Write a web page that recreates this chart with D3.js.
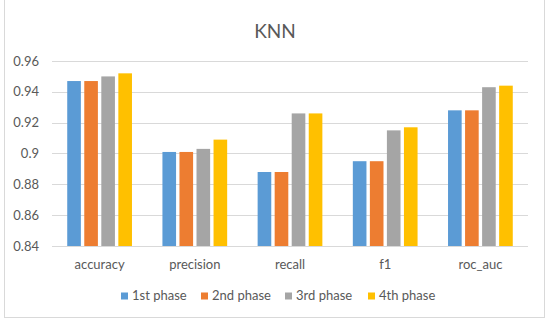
<!DOCTYPE html>
<html><head><meta charset="utf-8">
<script src="https://cdn.jsdelivr.net/npm/d3@7"></script>
<style>body{margin:0;background:#fff}svg{display:block}text{font-family:Lato,"Open Sans",sans-serif;fill:#595959}</style>
</head><body><svg id="c" width="550" height="323"></svg>
<script>
const categories = ["accuracy","precision","recall","f1","roc_auc"];
const seriesNames = ["1st phase","2nd phase","3rd phase","4th phase"];
const phase1 = [0.947,0.901,0.888,0.895,0.928];
const phase2 = [0.947,0.901,0.888,0.895,0.928];
const phase3 = [0.950,0.903,0.926,0.915,0.943];
const phase4 = [0.952,0.909,0.926,0.917,0.944];
const yTicks = [0.84,0.86,0.88,0.9,0.92,0.94,0.96];
const colors = ["#5B9BD5","#ED7D31","#A5A5A5","#FFC000"];
const series = [phase1,phase2,phase3,phase4];

const svg = d3.select("#c");
svg.append("rect").attr("x",4.5).attr("y",-1.5).attr("width",540).attr("height",319)
  .attr("fill","#fff").attr("stroke","#d9d9d9");
svg.append("text").attr("x",275).attr("y",38).attr("text-anchor","middle")
  .style("font-size","19px").text("KNN");

const L=52,R=528,T=61,B=246;
const y = d3.scaleLinear().domain([0.84,0.96]).range([B,T]);
const x0 = d3.scaleBand().domain(categories).range([L,R]).paddingInner(0.32).paddingOuter(0.16);
const x1 = d3.scaleBand().domain(d3.range(4)).range([0,x0.bandwidth()]).paddingInner(0.2);

svg.append("g").selectAll("line").data(yTicks).join("line")
  .attr("x1",L).attr("x2",R).attr("y1",d=>Math.round(y(d))+0.5).attr("y2",d=>Math.round(y(d))+0.5)
  .attr("stroke","#d9d9d9");
svg.append("g").selectAll("text").data(yTicks).join("text")
  .attr("x",39).attr("y",d=>y(d)+4.5).attr("text-anchor","end").style("font-size","13px")
  .text(d=>d3.format("")(+d.toFixed(2)));

const g = svg.append("g");
series.forEach((s,i)=>{
  g.selectAll(null).data(s).join("rect")
    .attr("x",(d,j)=>x0(categories[j])+x1(i)).attr("width",x1.bandwidth())
    .attr("y",d=>y(d)).attr("height",d=>B-y(d)).attr("fill",colors[i]);
});
svg.append("g").selectAll("text").data(categories).join("text")
  .attr("x",d=>x0(d)+x0.bandwidth()/2).attr("y",269).attr("text-anchor","middle")
  .style("font-size","13px").text(d=>d);

const legX=[121,201,285,368];
const lg = svg.append("g");
seriesNames.forEach((n,i)=>{
  lg.append("rect").attr("x",legX[i]).attr("y",292.5).attr("width",7).attr("height",7).attr("fill",colors[i]);
  lg.append("text").attr("x",legX[i]+11).attr("y",300).style("font-size","13px").text(n);
});
</script></body></html>
